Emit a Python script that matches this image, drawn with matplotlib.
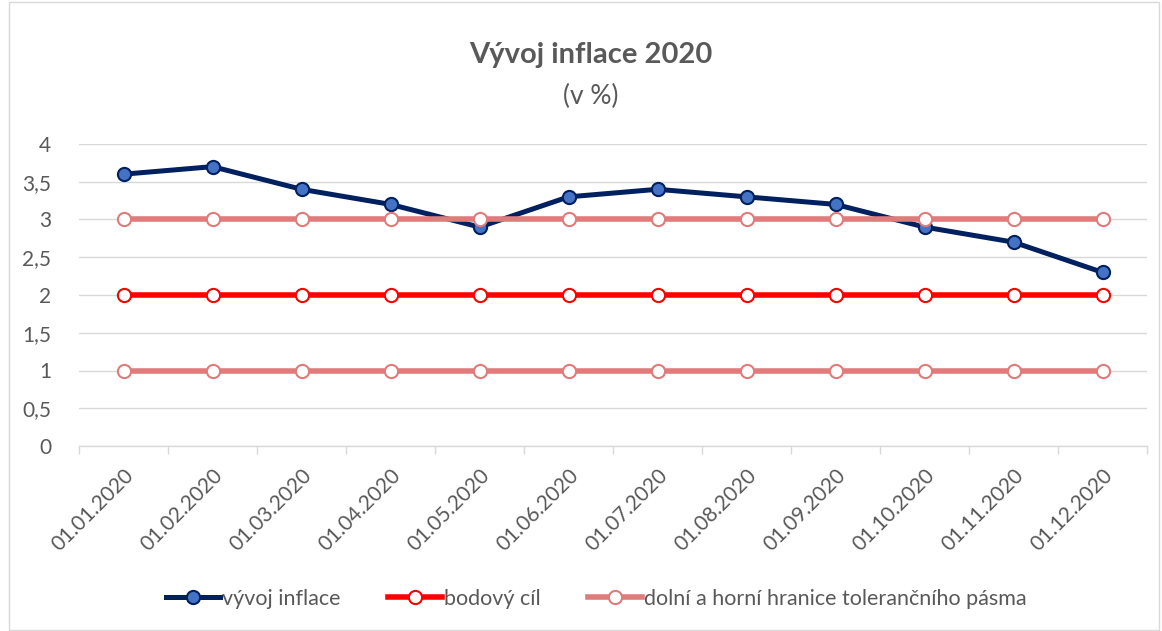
import matplotlib
matplotlib.use("Agg")
import matplotlib.pyplot as plt
from matplotlib.patches import Rectangle

categories = ["01.01.2020", "01.02.2020", "01.03.2020", "01.04.2020", "01.05.2020", "01.06.2020",
              "01.07.2020", "01.08.2020", "01.09.2020", "01.10.2020", "01.11.2020", "01.12.2020"]
inflace = [3.6, 3.7, 3.4, 3.2, 2.9, 3.3, 3.4, 3.3, 3.2, 2.9, 2.7, 2.3]
bodovy_cil = [2] * 12
horni = [3] * 12
dolni = [1] * 12
yticks = [0, 0.5, 1, 1.5, 2, 2.5, 3, 3.5, 4]
ylabels = ["0", "0,5", "1", "1,5", "2", "2,5", "3", "3,5", "4"]

plt.rcParams['font.family'] = ['Lato', 'DejaVu Sans']
txt = "#595959"

fig = plt.figure(figsize=(11.62, 6.31), dpi=100)
fig.patches.append(Rectangle((9/1162, 0.002), 1150/1162, 0.995, transform=fig.transFigure,
                             fill=False, edgecolor="#D9D9D9", linewidth=1))
ax = fig.add_axes([79/1162, 1 - 446/631, 1068/1162, 302/631])

x = list(range(len(categories)))
ms = 9.5
ax.plot(x, horni, color="#E07B7B", lw=4, marker="o", ms=ms, mfc="white", mec="#E07B7B", mew=1.5,
        label="dolní a horní hranice tolerančního pásma", zorder=3)
ax.plot(x, dolni, color="#E07B7B", lw=4, marker="o", ms=ms, mfc="white", mec="#E07B7B", mew=1.5, zorder=3)
ax.plot(x, bodovy_cil, color="#FF0000", lw=4, marker="o", ms=ms, mfc="white", mec="#FF0000", mew=1.5,
        label="bodový cíl", zorder=3)
ax.plot(x, inflace, color="#002060", lw=3.6, marker="o", ms=ms, mfc="#4472C4", mec="#002060", mew=1.5,
        label="vývoj inflace", zorder=2)

ax.set_xlim(-0.5, 11.5)
ax.set_ylim(0, 4)
ax.set_yticks(yticks)
ax.set_yticklabels(ylabels)
ax.set_xticks(x)
ax.set_xticklabels(categories, rotation=45, ha="right", rotation_mode="anchor")
ax.set_xticks([i - 0.5 for i in range(13)], minor=True)
ax.tick_params(axis="x", which="major", length=0, pad=14, labelsize=15, labelcolor=txt)
ax.tick_params(axis="x", which="minor", length=6, color="#D9D9D9", width=1)
ax.tick_params(axis="y", length=0, pad=20, labelsize=15, labelcolor=txt)
ax.grid(axis="y", color="#D9D9D9", lw=1)
ax.set_axisbelow(True)
for s in ["top", "right", "left"]:
    ax.spines[s].set_visible(False)
ax.spines["bottom"].set_color("#D9D9D9")
ax.spines["bottom"].set_linewidth(1)

fig.text(0.508, 1 - 55/631, "Vývoj inflace 2020", ha="center", va="center", fontsize=21,
         fontweight="bold", color=txt)
fig.text(0.508, 1 - 96/631, "(v %)", ha="center", va="center", fontsize=19, color=txt)

h, l = ax.get_legend_handles_labels()
order = [2, 1, 0]
leg = fig.legend([h[i] for i in order], [l[i] for i in order], loc="center", ncol=3,
                 bbox_to_anchor=(0.513, 1 - 599/631), frameon=False, fontsize=15.5,
                 handlelength=2.5, handletextpad=0.1, columnspacing=2.2)
for t in leg.get_texts():
    t.set_color(txt)

fig.savefig("out.png", dpi=100)
